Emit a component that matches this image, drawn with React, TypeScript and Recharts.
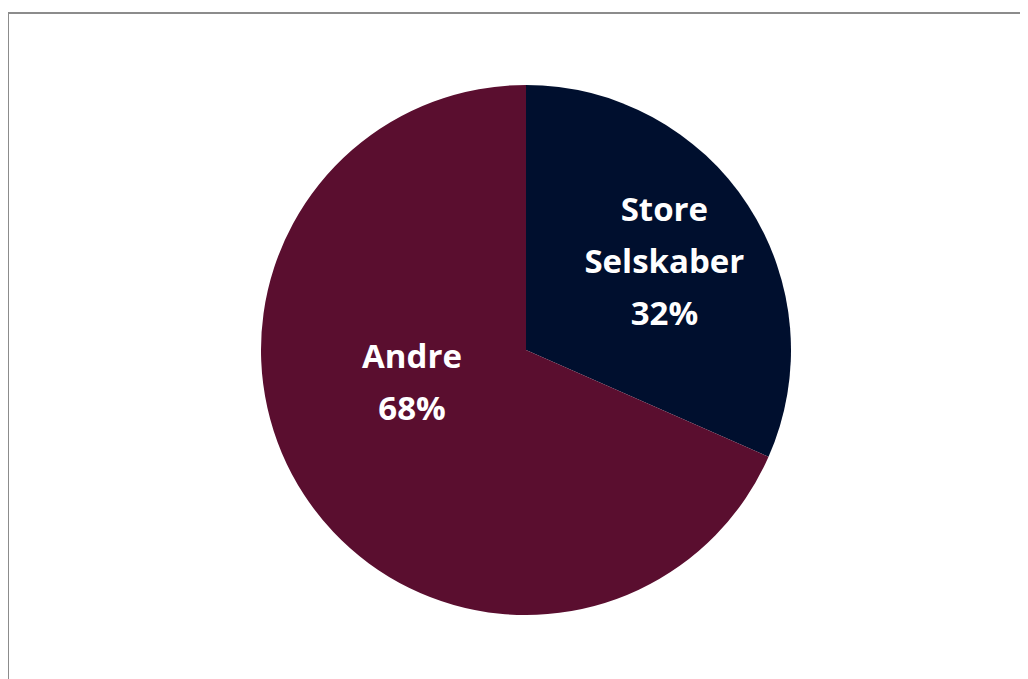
import React from 'react';
import { PieChart, Pie, Cell } from 'recharts';

const categories = ['Store Selskaber', 'Andre'];
const shares = [31.6, 68.4];
const colors = ['#000f2e', '#5a0e2f'];

const data = categories.map((name, i) => ({ name, value: shares[i] }));

// where each label sits, measured from the pie centre (angle in degrees, distance in px)
const labelSpots = [
  { angle: 33, dist: 165, lines: ['Store', 'Selskaber'] },
  { angle: 195, dist: 118, lines: ['Andre'] },
];

const renderLabel = (props: any) => {
  const { cx, cy, index } = props;
  const spot = labelSpots[index];
  const rad = (spot.angle * Math.PI) / 180;
  const x = cx + spot.dist * Math.cos(rad);
  const y = cy - spot.dist * Math.sin(rad);
  const lines = [...spot.lines, `${Math.round(shares[index])}%`];
  const lh = 52;
  const top = y - ((lines.length - 1) * lh) / 2;
  return (
    <text
      x={x}
      y={top}
      fill="#ffffff"
      textAnchor="middle"
      dominantBaseline="central"
      fontFamily="'Open Sans', sans-serif"
      fontWeight="bold"
      fontSize={33}
    >
      {lines.map((l, i) => (
        <tspan key={i} x={x} dy={i === 0 ? 0 : lh}>
          {l}
        </tspan>
      ))}
    </text>
  );
};

export default function App() {
  return (
    <div style={{ position: 'relative', width: 1020, height: 671, overflow: 'hidden' }}>
      <div
        style={{
          position: 'absolute',
          left: -1,
          top: 4,
          width: 1200,
          height: 900,
          borderTop: '2px solid #8c8c8c',
          borderLeft: '2px solid #8c8c8c',
        }}
      />
      <PieChart width={1020} height={671} style={{ position: 'absolute', left: 0, top: 0 }}>
        <Pie
          data={data}
          dataKey="value"
          cx={513}
          cy={337}
          outerRadius={265}
          startAngle={90}
          endAngle={-270}
          stroke="none"
          label={renderLabel}
          labelLine={false}
          isAnimationActive={false}
        >
          {data.map((d, i) => (
            <Cell key={d.name} fill={colors[i]} />
          ))}
        </Pie>
      </PieChart>
    </div>
  );
}
